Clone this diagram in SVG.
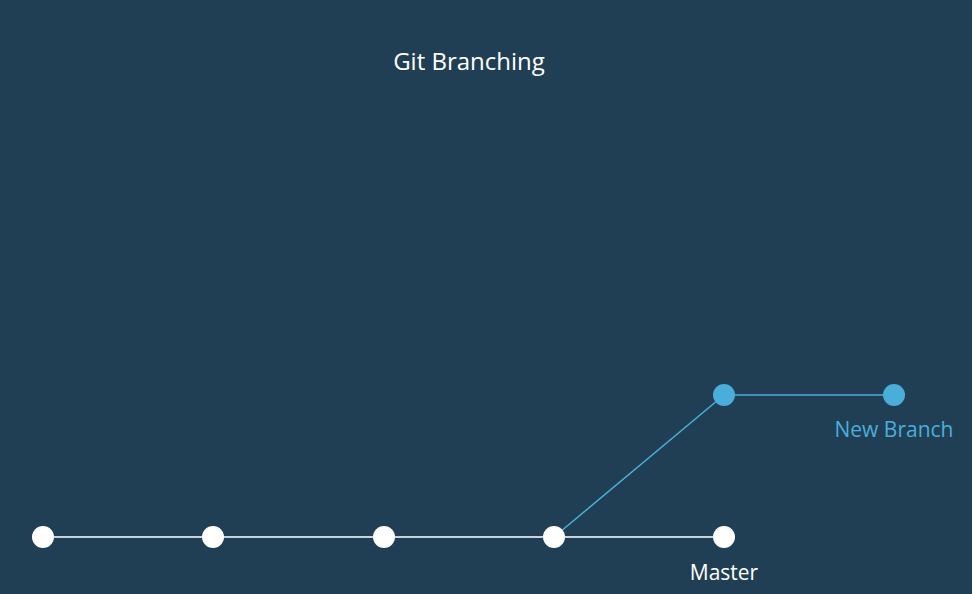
<svg xmlns="http://www.w3.org/2000/svg" width="972" height="594" viewBox="0 0 972 594">
<style>
.t{font-family:"Open Sans","Noto Sans","Liberation Sans",sans-serif;text-anchor:middle}
.m{fill:#ffffff}
.b{fill:#4aaedb}
.lm{stroke:#c8d2da;stroke-width:2;fill:none}
.lb{stroke:#4aaedb;stroke-width:1.5;fill:none}
</style>
<rect x="0" y="0" width="972" height="594" fill="#213f54"/>
<text class="t" x="469" y="70" font-size="24" fill="#ffffff">Git Branching</text>
<g id="connectors">
<line class="lm" x1="43" y1="537" x2="724" y2="537"/>
<line class="lb" x1="554" y1="537" x2="724" y2="395"/>
<line class="lb" x1="724" y1="395" x2="894" y2="395"/>
</g>
<g id="c1"><circle class="m" cx="43" cy="537" r="11"/></g>
<g id="c2"><circle class="m" cx="213" cy="537" r="11"/></g>
<g id="c3"><circle class="m" cx="384" cy="537" r="11"/></g>
<g id="c4"><circle class="m" cx="554" cy="537" r="11"/></g>
<g id="c5"><circle class="m" cx="724" cy="537" r="11"/><text class="t" x="724" y="580" font-size="21" fill="#ffffff">Master</text></g>
<g id="b1"><circle class="b" cx="724" cy="395" r="11"/></g>
<g id="b2"><circle class="b" cx="894" cy="395" r="11"/><text class="t" x="894" y="437" font-size="21" fill="#4aaedb">New Branch</text></g>
</svg>
